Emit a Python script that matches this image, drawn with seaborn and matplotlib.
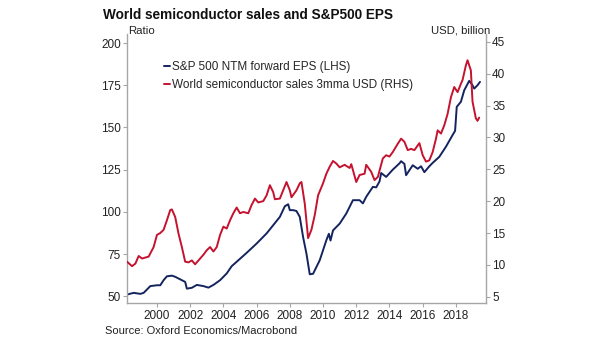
import matplotlib
matplotlib.use("Agg")
import matplotlib.pyplot as plt
import seaborn as sns
import pandas as pd

eps_years = [1998.2, 1998.6, 1999.0, 1999.2, 1999.6, 2000.0, 2000.2, 2000.4, 2000.6, 2000.9,
             2001.1, 2001.4, 2001.7, 2001.8, 2002.1, 2002.4, 2002.8, 2003.1, 2003.4, 2003.8,
             2004.2, 2004.5, 2004.9, 2005.4, 2006.0, 2006.6, 2007.0, 2007.4, 2007.7, 2007.9,
             2008.0, 2008.2, 2008.4, 2008.6, 2008.8, 2009.0, 2009.2, 2009.4, 2009.8, 2010.2,
             2010.35, 2010.45, 2010.6, 2011.0, 2011.4, 2011.8, 2012.2, 2012.4, 2012.6, 2013.0,
             2013.2, 2013.4, 2013.5, 2013.8, 2014.2, 2014.6, 2014.7, 2014.9, 2015.0, 2015.4,
             2015.7, 2015.9, 2016.1, 2016.4, 2016.6, 2017.0, 2017.4, 2017.8, 2017.95, 2018.05,
             2018.3, 2018.5, 2018.8, 2019.0, 2019.1, 2019.3, 2019.45]
eps = [51.0, 52.0, 51.4, 52.0, 56.0, 56.5, 56.5, 59.5, 61.8, 62.2,
       61.5, 60.0, 58.5, 54.5, 55.0, 56.7, 56.0, 55.1, 56.7, 59.5,
       63.5, 67.8, 71.3, 75.7, 81.2, 87.2, 92.1, 97.0, 103.3, 104.5,
       101.0, 101.0, 100.5, 97.0, 85.0, 75.3, 63.0, 63.3, 71.3, 83.2,
       87.0, 83.0, 89.0, 93.0, 99.0, 106.9, 106.9, 105.0, 108.9, 114.8,
       114.5, 118.0, 123.0, 120.7, 125.0, 128.7, 130.0, 128.4, 121.7, 127.6,
       125.5, 127.0, 123.5, 127.0, 129.0, 132.6, 138.6, 145.5, 148.0, 162.2,
       165.2, 172.0, 177.6, 175.0, 173.0, 175.0, 177.0]

semi_years = [1998.2, 1998.5, 1998.7, 1998.9, 1999.1, 1999.5, 1999.8, 2000.0, 2000.2, 2000.4,
              2000.6, 2000.8, 2000.9, 2001.1, 2001.3, 2001.5, 2001.7, 2001.9, 2002.1, 2002.3,
              2002.6, 2002.8, 2003.0, 2003.2, 2003.4, 2003.6, 2003.8, 2004.0, 2004.2, 2004.4,
              2004.6, 2004.8, 2005.0, 2005.2, 2005.5, 2005.7, 2005.9, 2006.1, 2006.4, 2006.6,
              2006.8, 2007.0, 2007.1, 2007.4, 2007.6, 2007.8, 2008.0, 2008.1, 2008.4, 2008.6,
              2008.7, 2008.9, 2009.1, 2009.3, 2009.5, 2009.7, 2010.0, 2010.2, 2010.4, 2010.6,
              2010.8, 2011.0, 2011.3, 2011.6, 2011.7, 2012.0, 2012.2, 2012.5, 2012.6, 2012.9,
              2013.1, 2013.3, 2013.6, 2013.8, 2014.0, 2014.2, 2014.5, 2014.7, 2014.9, 2015.1,
              2015.3, 2015.5, 2015.8, 2016.0, 2016.2, 2016.4, 2016.6, 2016.8, 2016.9, 2017.1,
              2017.3, 2017.5, 2017.7, 2017.9, 2018.1, 2018.3, 2018.4, 2018.6, 2018.7, 2018.9,
              2019.0, 2019.2, 2019.3, 2019.4]
semi = [10.5, 9.8, 10.2, 11.4, 11.0, 11.3, 12.8, 14.7, 15.0, 15.5,
        17.0, 18.6, 18.7, 17.5, 14.9, 12.8, 10.5, 10.4, 10.7, 10.1,
        11.0, 11.6, 12.3, 12.8, 12.1, 12.8, 14.7, 16.0, 15.7, 17.0,
        18.1, 19.0, 18.1, 18.3, 18.1, 19.4, 20.4, 19.8, 20.0, 20.9,
        22.5, 21.4, 20.3, 20.4, 21.7, 23.0, 21.7, 20.6, 21.7, 22.8,
        23.0, 19.6, 14.2, 15.5, 17.8, 20.9, 22.8, 24.3, 25.4, 26.3,
        25.9, 25.3, 25.7, 25.2, 25.8, 23.0, 24.1, 24.3, 25.7, 24.6,
        23.3, 23.8, 26.7, 27.2, 27.0, 27.7, 29.0, 29.8, 29.3, 28.0,
        28.2, 28.0, 29.1, 27.2, 26.2, 26.4, 27.7, 29.8, 31.1, 30.6,
        31.9, 33.7, 36.3, 37.9, 37.1, 38.4, 39.0, 41.3, 42.1, 40.5,
        35.6, 33.0, 32.6, 33.1]

x_ticks = [2000, 2002, 2004, 2006, 2008, 2010, 2012, 2014, 2016, 2018]
left_ticks = [50, 75, 100, 125, 150, 175, 200]
right_ticks = [5, 10, 15, 20, 25, 30, 35, 40, 45]

eps_label = "S&P 500 NTM forward EPS (LHS)"
semi_label = "World semiconductor sales 3mma USD (RHS)"

sns.set_style("white")
plt.rcParams['font.family'] = ['Liberation Sans', 'DejaVu Sans']

BLUE = "#14245e"
RED = "#c4122f"
GRAY = "#a6a6a6"

fig = plt.figure(figsize=(6.05, 3.41), dpi=100)
ax = fig.add_axes([0.21, 0.111, 0.593, 0.789])
ax2 = ax.twinx()

df_eps = pd.DataFrame({"year": eps_years, "value": eps})
df_semi = pd.DataFrame({"year": semi_years, "value": semi})

sns.lineplot(data=df_eps, x="year", y="value", ax=ax, color=BLUE, linewidth=1.4,
             label=eps_label, legend=False)
sns.lineplot(data=df_semi, x="year", y="value", ax=ax2, color=RED, linewidth=1.4,
             label=semi_label, legend=False)

ax.set_xlim(1998.2, 2019.8)
ax.set_ylim(45.9, 205.3)
ax2.set_ylim(4.0, 46.2)
ax.set_xticks(x_ticks)
ax.set_yticks(left_ticks)
ax2.set_yticks(right_ticks)
ax.set_xlabel("")
ax.set_ylabel("")
ax2.set_ylabel("")

for a in (ax, ax2):
    a.spines['top'].set_visible(False)
    for s in a.spines.values():
        s.set_color(GRAY)
        s.set_linewidth(1.0)
ax.spines['right'].set_visible(False)
ax2.spines['left'].set_visible(False)
ax2.spines['bottom'].set_visible(False)

ax.tick_params(axis='y', which='major', left=True, length=3, width=0.8, color=GRAY,
               labelsize=8.5, pad=1.5, labelcolor='#222222')
ax.tick_params(axis='x', which='major', bottom=True, length=3, width=0.8, color=GRAY,
               labelsize=8.5, pad=2, labelcolor='#222222')
ax2.tick_params(axis='y', which='major', right=True, length=3, width=0.8, color=GRAY,
                labelsize=8.5, pad=1.5, labelcolor='#222222')

h1, l1 = ax.get_legend_handles_labels()
h2, l2 = ax2.get_legend_handles_labels()
ax2.legend(h1 + h2, l1 + l2, loc='upper left', bbox_to_anchor=(0.104, 0.9),
           frameon=False, fontsize=8.5, handlelength=0.45, handletextpad=0.2,
           labelspacing=0.5, borderaxespad=0, borderpad=0)

fig.text(0.171, 0.955, "World semiconductor sales and S&P500 EPS", fontsize=9.8,
         fontweight='bold', ha='left', va='center', color='#111111')
fig.text(0.212, 0.91, "Ratio", fontsize=8.2, ha='left', va='center', color='#222222')
fig.text(0.811, 0.91, "USD, billion", fontsize=8.2, ha='right', va='center', color='#222222')
fig.text(0.173, 0.03, "Source: Oxford Economics/Macrobond", fontsize=8.0,
         ha='left', va='center', color='#222222')

fig.savefig("out.png", dpi=100)
